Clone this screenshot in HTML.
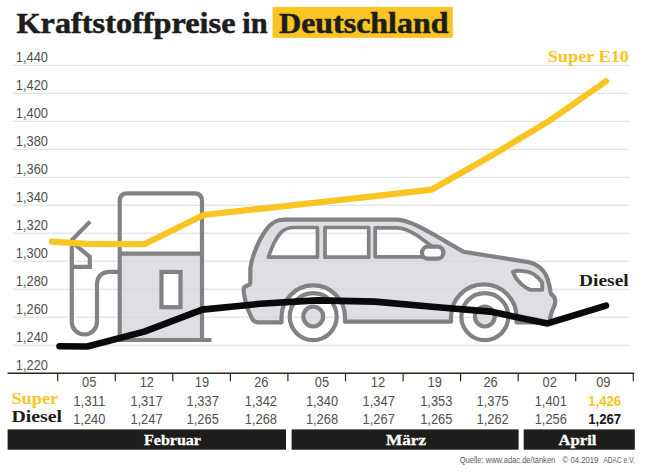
<!DOCTYPE html>
<html lang="de"><head><meta charset="utf-8"><title>Kraftstoffpreise in Deutschland</title>
<style>
html,body{margin:0;padding:0;background:#fff;}
body{width:650px;height:474px;overflow:hidden;font-family:"Liberation Sans",sans-serif;}
svg{display:block;}
.sans{font-family:"Liberation Sans",sans-serif;}
.serif{font-family:"Liberation Serif",serif;font-weight:bold;}
</style></head><body>
<svg width="650" height="474" viewBox="0 0 650 474">
<rect x="0" y="0" width="650" height="474" fill="#ffffff"/>
<rect x="272.6" y="6.9" width="180.2" height="31" fill="#FAC422"/>
<text class="serif" y="33.4" font-size="30.4" fill="#1d1d1b" stroke="#1d1d1b" stroke-width="0.55" lengthAdjust="spacingAndGlyphs" x="16.5" textLength="219"><tspan font-size="29.2">K</tspan>raftstoffpreise</text>
<text class="serif" y="33.4" font-size="30.4" fill="#1d1d1b" stroke="#1d1d1b" stroke-width="0.55" lengthAdjust="spacingAndGlyphs" x="242.3" textLength="25.3">in</text>
<text class="serif" y="33.4" font-size="30.4" fill="#1d1d1b" stroke="#1d1d1b" stroke-width="0.55" lengthAdjust="spacingAndGlyphs" x="279" textLength="169.5"><tspan font-size="29.2">D</tspan>eutschland</text>
<line x1="13" y1="65.3" x2="629.5" y2="65.3" stroke="#d9d9d9" stroke-width="0.9"/>
<text class="sans" x="15.8" y="62.4" font-size="14" fill="#505050" textLength="32.2" lengthAdjust="spacingAndGlyphs">1,440</text>
<line x1="13" y1="93.3" x2="629.5" y2="93.3" stroke="#d9d9d9" stroke-width="0.9"/>
<text class="sans" x="15.8" y="90.4" font-size="14" fill="#505050" textLength="32.2" lengthAdjust="spacingAndGlyphs">1,420</text>
<line x1="13" y1="121.3" x2="629.5" y2="121.3" stroke="#d9d9d9" stroke-width="0.9"/>
<text class="sans" x="15.8" y="118.4" font-size="14" fill="#505050" textLength="32.2" lengthAdjust="spacingAndGlyphs">1,400</text>
<line x1="13" y1="149.3" x2="629.5" y2="149.3" stroke="#d9d9d9" stroke-width="0.9"/>
<text class="sans" x="15.8" y="146.4" font-size="14" fill="#505050" textLength="32.2" lengthAdjust="spacingAndGlyphs">1,380</text>
<line x1="13" y1="177.3" x2="629.5" y2="177.3" stroke="#d9d9d9" stroke-width="0.9"/>
<text class="sans" x="15.8" y="174.4" font-size="14" fill="#505050" textLength="32.2" lengthAdjust="spacingAndGlyphs">1,360</text>
<line x1="13" y1="205.2" x2="629.5" y2="205.2" stroke="#d9d9d9" stroke-width="0.9"/>
<text class="sans" x="15.8" y="202.3" font-size="14" fill="#505050" textLength="32.2" lengthAdjust="spacingAndGlyphs">1,340</text>
<line x1="13" y1="233.2" x2="629.5" y2="233.2" stroke="#d9d9d9" stroke-width="0.9"/>
<text class="sans" x="15.8" y="230.3" font-size="14" fill="#505050" textLength="32.2" lengthAdjust="spacingAndGlyphs">1,320</text>
<line x1="13" y1="261.2" x2="629.5" y2="261.2" stroke="#d9d9d9" stroke-width="0.9"/>
<text class="sans" x="15.8" y="258.3" font-size="14" fill="#505050" textLength="32.2" lengthAdjust="spacingAndGlyphs">1,300</text>
<line x1="13" y1="289.2" x2="629.5" y2="289.2" stroke="#d9d9d9" stroke-width="0.9"/>
<text class="sans" x="15.8" y="286.3" font-size="14" fill="#505050" textLength="32.2" lengthAdjust="spacingAndGlyphs">1,280</text>
<line x1="13" y1="317.2" x2="629.5" y2="317.2" stroke="#d9d9d9" stroke-width="0.9"/>
<text class="sans" x="15.8" y="314.3" font-size="14" fill="#505050" textLength="32.2" lengthAdjust="spacingAndGlyphs">1,260</text>
<line x1="13" y1="345.2" x2="629.5" y2="345.2" stroke="#d9d9d9" stroke-width="0.9"/>
<text class="sans" x="15.8" y="342.3" font-size="14" fill="#505050" textLength="32.2" lengthAdjust="spacingAndGlyphs">1,240</text>
<text class="sans" x="15.8" y="370.3" font-size="14" fill="#505050" textLength="32.2" lengthAdjust="spacingAndGlyphs">1,220</text>
<g fill="none" stroke="#828285" stroke-width="4.2" stroke-linejoin="miter">
<rect x="119.7" y="253.7" width="82.3" height="86.3" fill="#D1D4DA" fill-opacity="0.75" stroke="none"/>
<path d="M119.7,340 L119.7,201 Q119.7,193.3 127.4,193.3 L194.3,193.3 Q202,193.3 202,201 L202,340"/>
<line x1="119.7" y1="253.7" x2="202" y2="253.7"/>
<line x1="118" y1="340" x2="211.5" y2="340" stroke-width="4.2"/>
<rect x="161.5" y="272" width="19" height="35.2" fill="#ffffff"/>
<path d="M119.7,271.8 L110.4,271.8 Q97,271.8 97,285.2 L97,321.9 A12.6,12.6 0 0 1 71.8,321.9 L71.8,241"/>
<path d="M71.8,242 L89.8,256.8 L89.8,266.8 L71.8,266.8"/>
<line x1="71.2" y1="240.8" x2="90.1" y2="221.6" stroke-width="4.2"/>
</g>
<path d="M257.5,322.3 L281.5,322.3 L281.5,317.1 A31.75,31.75 0 0 1 345,317.1 L345,321.7 L451,321.7 L451,317.1 A32.75,32.75 0 0 1 516.5,317.1 L516.5,322.3 L547,322.3 Q549.8,322.3 550.1,318.3 L551.7,312 L554.4,305.7 Q555.3,303.5 555.2,300.5 Q554.8,296.5 550.9,293.8 L549.3,285.1 Q548,279 545.4,274 Q543.5,270.5 539,266.9 Q535,263.5 528.7,262.1 L463.4,251.8 C432,233.8 411,219.8 397,219.6 L284,219.6 C276,219.6 270,224 266,230 C260,238 252,255 250.3,268.5 L250.3,282.5 Q250.3,284.8 248,285.3 L246.2,285.9 Q243.4,287 243.6,290.5 L244.4,296 Q245.5,303 247.5,308.5 L251.5,317.5 Q253.5,322.3 257.5,322.3 Z M268.4,257.2 C272,246 276,238 281,232.5 Q286,227.5 294.5,227.5 L317.5,227.5 L317.5,257.2 Z M325,227.5 L368.7,227.5 L368.7,257.2 L325,257.2 Z M375.2,227.8 L397,227.8 Q406,228 418,236 L436,249.5 L436,256.8 L375.2,256.8 Z" fill="#D1D4DA" fill-opacity="0.75" fill-rule="evenodd" stroke="none"/>
<g stroke="#828285" stroke-width="4.2" stroke-linejoin="round" fill="none">
<path d="M257.5,322.3 L281.5,322.3 L281.5,317.1 A31.75,31.75 0 0 1 345,317.1 L345,321.7 L451,321.7 L451,317.1 A32.75,32.75 0 0 1 516.5,317.1 L516.5,322.3 L547,322.3 Q549.8,322.3 550.1,318.3 L551.7,312 L554.4,305.7 Q555.3,303.5 555.2,300.5 Q554.8,296.5 550.9,293.8 L549.3,285.1 Q548,279 545.4,274 Q543.5,270.5 539,266.9 Q535,263.5 528.7,262.1 L463.4,251.8 C432,233.8 411,219.8 397,219.6 L284,219.6 C276,219.6 270,224 266,230 C260,238 252,255 250.3,268.5 L250.3,282.5 Q250.3,284.8 248,285.3 L246.2,285.9 Q243.4,287 243.6,290.5 L244.4,296 Q245.5,303 247.5,308.5 L251.5,317.5 Q253.5,322.3 257.5,322.3 Z"/>
<path d="M268.4,257.2 C272,246 276,238 281,232.5 Q286,227.5 294.5,227.5 L317.5,227.5 L317.5,257.2 Z" stroke-width="3.7"/>
<path d="M325,227.5 L368.7,227.5 L368.7,257.2 L325,257.2 Z" stroke-width="3.7"/>
<path d="M375.2,227.8 L397,227.8 Q406,228 418,236 L436,249.5 L436,256.8 L375.2,256.8 Z" stroke-width="3.7"/>
<rect x="422" y="246.7" width="21.4" height="12" rx="6" ry="6" fill="#fbfbfb"/>
<path transform="translate(0,0.9)" d="M512.9,270.8 Q516,269.6 520.8,270 Q526,270.3 530.3,271.6 Q534.5,273.3 537.5,276.4 Q540.5,279 542.2,281.9 L542.2,289 L530.3,289 Q525.5,287 521.6,283.5 Q518.5,280.5 516.1,277.2 Q514,274 512.9,270.8 Z" fill="#fbfbfb" stroke-width="3.9"/>
<circle cx="313.2" cy="316.6" r="23.5" fill="none"/>
<circle cx="313.2" cy="316.6" r="9.9" fill="#D1D4DA" fill-opacity="0.75"/>
<circle cx="484.8" cy="316.6" r="23.5" fill="none"/>
<circle cx="484.8" cy="316.6" r="9.9" fill="#D1D4DA" fill-opacity="0.75"/>
</g>
<polyline points="52,241.7 87,243.8 144.3,244.2 203.5,215 260,208.8 317,202.5 375,196.2 431.5,189.7 490,156.5 548,121.7 606,81.2" fill="none" stroke="#FAC422" stroke-width="6.2" stroke-linecap="round" stroke-linejoin="round"/>
<polyline points="59.5,346.2 87.3,346.5 144.3,331.6 202.3,309.6 260,303.8 317,300.4 375,301.6 432,306.8 490,311.6 547.6,323.4 606,305.6" fill="none" stroke="#0a0a0a" stroke-width="6.6" stroke-linecap="round" stroke-linejoin="round"/>
<text class="serif" x="547.7" y="61.5" font-size="16" fill="#FAC422" textLength="81.3" lengthAdjust="spacingAndGlyphs">Super E10</text>
<text class="serif" x="579" y="285.7" font-size="16" fill="#1d1d1b" textLength="49.7" lengthAdjust="spacingAndGlyphs">Diesel</text>
<line x1="7.6" y1="373.2" x2="634.3" y2="373.2" stroke="#2a2618" stroke-width="1.6"/>
<line x1="57.7" y1="373.2" x2="57.7" y2="381.3" stroke="#2a2618" stroke-width="1.2"/>
<line x1="115.3" y1="373.2" x2="115.3" y2="381.3" stroke="#2a2618" stroke-width="1.2"/>
<line x1="172.8" y1="373.2" x2="172.8" y2="381.3" stroke="#2a2618" stroke-width="1.2"/>
<line x1="230.4" y1="373.2" x2="230.4" y2="381.3" stroke="#2a2618" stroke-width="1.2"/>
<line x1="287.9" y1="373.2" x2="287.9" y2="381.3" stroke="#2a2618" stroke-width="1.2"/>
<line x1="345.5" y1="373.2" x2="345.5" y2="381.3" stroke="#2a2618" stroke-width="1.2"/>
<line x1="403.1" y1="373.2" x2="403.1" y2="381.3" stroke="#2a2618" stroke-width="1.2"/>
<line x1="460.6" y1="373.2" x2="460.6" y2="381.3" stroke="#2a2618" stroke-width="1.2"/>
<line x1="518.2" y1="373.2" x2="518.2" y2="381.3" stroke="#2a2618" stroke-width="1.2"/>
<line x1="575.7" y1="373.2" x2="575.7" y2="381.3" stroke="#2a2618" stroke-width="1.2"/>
<line x1="633.3" y1="373.2" x2="633.3" y2="381.3" stroke="#2a2618" stroke-width="1.2"/>
<text class="sans" x="89.2" y="387.4" font-size="14" fill="#505050" text-anchor="middle" textLength="14.3" lengthAdjust="spacingAndGlyphs">05</text>
<text class="sans" x="146.8" y="387.4" font-size="14" fill="#505050" text-anchor="middle" textLength="14.3" lengthAdjust="spacingAndGlyphs">12</text>
<text class="sans" x="202" y="387.4" font-size="14" fill="#505050" text-anchor="middle" textLength="14.3" lengthAdjust="spacingAndGlyphs">19</text>
<text class="sans" x="261.3" y="387.4" font-size="14" fill="#505050" text-anchor="middle" textLength="14.3" lengthAdjust="spacingAndGlyphs">26</text>
<text class="sans" x="322" y="387.4" font-size="14" fill="#505050" text-anchor="middle" textLength="14.3" lengthAdjust="spacingAndGlyphs">05</text>
<text class="sans" x="378" y="387.4" font-size="14" fill="#505050" text-anchor="middle" textLength="14.3" lengthAdjust="spacingAndGlyphs">12</text>
<text class="sans" x="434.7" y="387.4" font-size="14" fill="#505050" text-anchor="middle" textLength="14.3" lengthAdjust="spacingAndGlyphs">19</text>
<text class="sans" x="490.6" y="387.4" font-size="14" fill="#505050" text-anchor="middle" textLength="14.3" lengthAdjust="spacingAndGlyphs">26</text>
<text class="sans" x="549.7" y="387.4" font-size="14" fill="#505050" text-anchor="middle" textLength="14.3" lengthAdjust="spacingAndGlyphs">02</text>
<text class="sans" x="603.3" y="387.4" font-size="14" fill="#505050" text-anchor="middle" textLength="14.3" lengthAdjust="spacingAndGlyphs">09</text>
<text class="sans" x="89.3" y="405.9" font-size="14" fill="#505050" text-anchor="middle" textLength="32.2" lengthAdjust="spacingAndGlyphs">1,311</text>
<text class="sans" x="89.3" y="423.6" font-size="14" fill="#505050" text-anchor="middle" textLength="32.2" lengthAdjust="spacingAndGlyphs">1,240</text>
<text class="sans" x="146.5" y="405.9" font-size="14" fill="#505050" text-anchor="middle" textLength="32.2" lengthAdjust="spacingAndGlyphs">1,317</text>
<text class="sans" x="146.5" y="423.6" font-size="14" fill="#505050" text-anchor="middle" textLength="32.2" lengthAdjust="spacingAndGlyphs">1,247</text>
<text class="sans" x="202.7" y="405.9" font-size="14" fill="#505050" text-anchor="middle" textLength="32.2" lengthAdjust="spacingAndGlyphs">1,337</text>
<text class="sans" x="202.7" y="423.6" font-size="14" fill="#505050" text-anchor="middle" textLength="32.2" lengthAdjust="spacingAndGlyphs">1,265</text>
<text class="sans" x="260.9" y="405.9" font-size="14" fill="#505050" text-anchor="middle" textLength="32.2" lengthAdjust="spacingAndGlyphs">1,342</text>
<text class="sans" x="260.9" y="423.6" font-size="14" fill="#505050" text-anchor="middle" textLength="32.2" lengthAdjust="spacingAndGlyphs">1,268</text>
<text class="sans" x="322" y="405.9" font-size="14" fill="#505050" text-anchor="middle" textLength="32.2" lengthAdjust="spacingAndGlyphs">1,340</text>
<text class="sans" x="322" y="423.6" font-size="14" fill="#505050" text-anchor="middle" textLength="32.2" lengthAdjust="spacingAndGlyphs">1,268</text>
<text class="sans" x="378.7" y="405.9" font-size="14" fill="#505050" text-anchor="middle" textLength="32.2" lengthAdjust="spacingAndGlyphs">1,347</text>
<text class="sans" x="378.7" y="423.6" font-size="14" fill="#505050" text-anchor="middle" textLength="32.2" lengthAdjust="spacingAndGlyphs">1,267</text>
<text class="sans" x="436.3" y="405.9" font-size="14" fill="#505050" text-anchor="middle" textLength="32.2" lengthAdjust="spacingAndGlyphs">1,353</text>
<text class="sans" x="436.3" y="423.6" font-size="14" fill="#505050" text-anchor="middle" textLength="32.2" lengthAdjust="spacingAndGlyphs">1,265</text>
<text class="sans" x="492.6" y="405.9" font-size="14" fill="#505050" text-anchor="middle" textLength="32.2" lengthAdjust="spacingAndGlyphs">1,375</text>
<text class="sans" x="492.6" y="423.6" font-size="14" fill="#505050" text-anchor="middle" textLength="32.2" lengthAdjust="spacingAndGlyphs">1,262</text>
<text class="sans" x="550.8" y="405.9" font-size="14" fill="#505050" text-anchor="middle" textLength="32.2" lengthAdjust="spacingAndGlyphs">1,401</text>
<text class="sans" x="550.8" y="423.6" font-size="14" fill="#505050" text-anchor="middle" textLength="32.2" lengthAdjust="spacingAndGlyphs">1,256</text>
<text class="sans" x="604.7" y="405.9" font-size="14" font-weight="bold" fill="#FAC422" text-anchor="middle" textLength="33" lengthAdjust="spacingAndGlyphs">1,426</text>
<text class="sans" x="604.7" y="423.6" font-size="14" font-weight="bold" fill="#1d1d1b" text-anchor="middle" textLength="33" lengthAdjust="spacingAndGlyphs">1,267</text>
<text class="serif" x="11.4" y="403.9" font-size="16" fill="#FAC422" textLength="46.8" lengthAdjust="spacingAndGlyphs">Super</text>
<text class="serif" x="11.4" y="421.8" font-size="16" fill="#1d1d1b" textLength="50.6" lengthAdjust="spacingAndGlyphs">Diesel</text>
<rect x="7.6" y="429.4" width="278.4" height="20.3" fill="#1d1d1b"/>
<rect x="291.6" y="429.4" width="227" height="20.3" fill="#1d1d1b"/>
<rect x="523.7" y="429.4" width="111.1" height="20.3" fill="#1d1d1b"/>
<text class="serif" x="172.5" y="444.6" font-size="15.5" fill="#ffffff" stroke="#ffffff" stroke-width="0.3" text-anchor="middle" textLength="57" lengthAdjust="spacingAndGlyphs">Februar</text>
<text class="serif" x="406" y="444.6" font-size="15.5" fill="#ffffff" stroke="#ffffff" stroke-width="0.3" text-anchor="middle" textLength="40" lengthAdjust="spacingAndGlyphs">März</text>
<text class="serif" x="577.5" y="444.6" font-size="15.5" fill="#ffffff" stroke="#ffffff" stroke-width="0.3" text-anchor="middle" textLength="38" lengthAdjust="spacingAndGlyphs">April</text>
<text class="sans" x="459.7" y="463.4" font-size="8.8" fill="#5a5a5a" textLength="95.6" lengthAdjust="spacingAndGlyphs">Quelle: www.adac.de/tanken</text>
<text class="sans" x="562.6" y="463.4" font-size="8.8" fill="#5a5a5a" textLength="35.8" lengthAdjust="spacingAndGlyphs">© 04.2019</text>
<text class="sans" x="603.4" y="463.4" font-size="8.8" fill="#5a5a5a" textLength="31.4" lengthAdjust="spacingAndGlyphs">ADAC e.V.</text>
</svg>
</body></html>
